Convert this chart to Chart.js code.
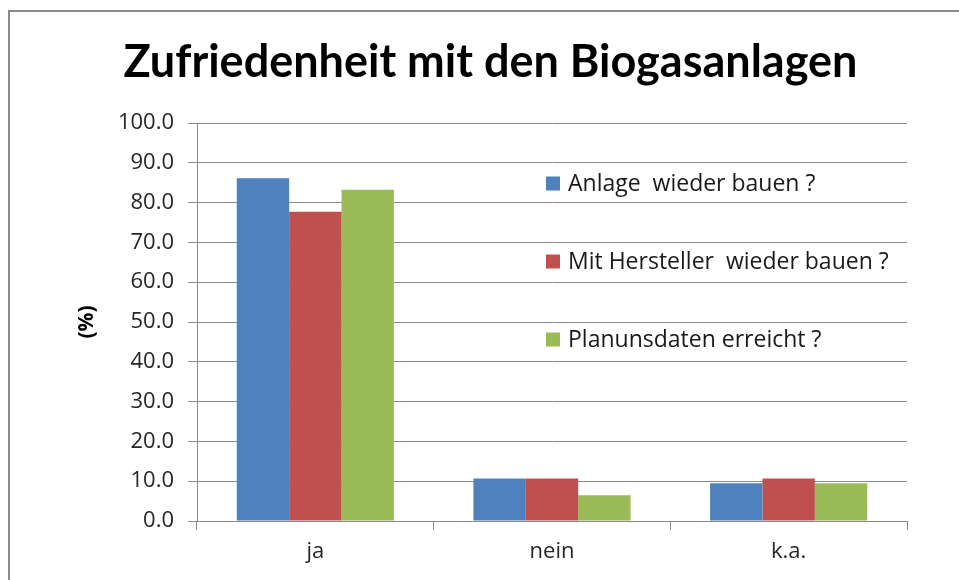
<!DOCTYPE html>
<html>
<head>
<meta charset="utf-8">
<script src="https://cdn.jsdelivr.net/npm/chart.js@4"></script>
<style>
  html, body { margin: 0; padding: 0; background: #fff; overflow: hidden; }
  #frame {
    position: absolute; left: 8px; top: 10px;
    width: 949px; height: 568px;
    border-left: 2px solid #8a8a8a; border-top: 2px solid #8a8a8a;
  }
  canvas { display: block; }
</style>
</head>
<body>
<div id="frame"><canvas id="chart" width="949" height="568"></canvas></div>
<script>
var categories = ["ja", "nein", "k.a."];
var anlageWiederBauen = [86.1, 10.7, 9.5];
var mitHerstellerWiederBauen = [77.7, 10.7, 10.7];
var planunsdatenErreicht = [83.2, 6.5, 9.5];
var seriesNames = ["Anlage  wieder bauen ?", "Mit Hersteller  wieder bauen ?", "Planunsdaten erreicht ?"];
var seriesColors = ['#4F81BD', '#C0504D', '#9BBB59'];

var TITLE_FONT = "Lato, 'Liberation Sans', sans-serif";
var FONT = "'Open Sans', 'Liberation Sans', sans-serif";

// legend drawn inside the plot area, like the original
var innerLegend = {
  id: 'innerLegend',
  afterDatasetsDraw: function(chart) {
    var ctx = chart.ctx;
    var area = chart.chartArea;
    var x = area.left + 349;
    ctx.save();
    ctx.font = '23px ' + FONT;
    ctx.textBaseline = 'middle';
    ctx.textAlign = 'left';
    chart.data.datasets.forEach(function(ds, i) {
      var y = area.top + 60.5 + i * 78;
      ctx.fillStyle = ds.backgroundColor;
      ctx.fillRect(x, y - 7, 14, 14);
      ctx.fillStyle = '#1a1a1a';
      ctx.fillText(ds.label, x + 22, y + 1);
    });
    ctx.restore();
  }
};

new Chart(document.getElementById('chart').getContext('2d'), {
  type: 'bar',
  data: {
    labels: categories,
    datasets: [{
      label: seriesNames[0],
      backgroundColor: seriesColors[0],
      data: anlageWiederBauen
    }, {
      label: seriesNames[1],
      backgroundColor: seriesColors[1],
      data: mitHerstellerWiederBauen
    }, {
      label: seriesNames[2],
      backgroundColor: seriesColors[2],
      data: planunsdatenErreicht
    }]
  },
  options: {
    responsive: false,
    animation: false,
    layout: { padding: { left: 64, right: 52, top: 0, bottom: 0 } },
    datasets: { bar: { barPercentage: 1, categoryPercentage: 0.664 } },
    plugins: {
      legend: { display: false },
      tooltip: { enabled: false },
      title: {
        display: true,
        text: 'Zufriedenheit mit den Biogasanlagen',
        color: '#000',
        font: { family: TITLE_FONT, size: 45, weight: 'bold', lineHeight: 1.2 },
        padding: { top: 23, bottom: 34 }
      }
    },
    scales: {
      x: {
        afterFit: function(s) { s.height = 59; },
        grid: { offset: true, drawOnChartArea: false, drawTicks: true, tickLength: 9, color: '#8a8a8a' },
        border: { color: '#8a8a8a' },
        ticks: { color: '#262626', padding: 9, font: { family: FONT, size: 22 } }
      },
      y: {
        min: 0, max: 100,
        afterFit: function(s) { s.width = 123; },
        grid: { color: '#8a8a8a', tickLength: 9 },
        border: { color: '#8a8a8a' },
        ticks: {
          stepSize: 10, padding: 14, color: '#262626',
          font: { family: FONT, size: 22 },
          callback: function(v) { return v.toFixed(1); }
        },
        title: {
          display: true, text: '(%)', color: '#000',
          font: { family: FONT, size: 21, weight: 'bold', lineHeight: 1.2 },
          padding: { top: 0, bottom: 0 }
        }
      }
    }
  },
  plugins: [innerLegend]
});
</script>
</body>
</html>
